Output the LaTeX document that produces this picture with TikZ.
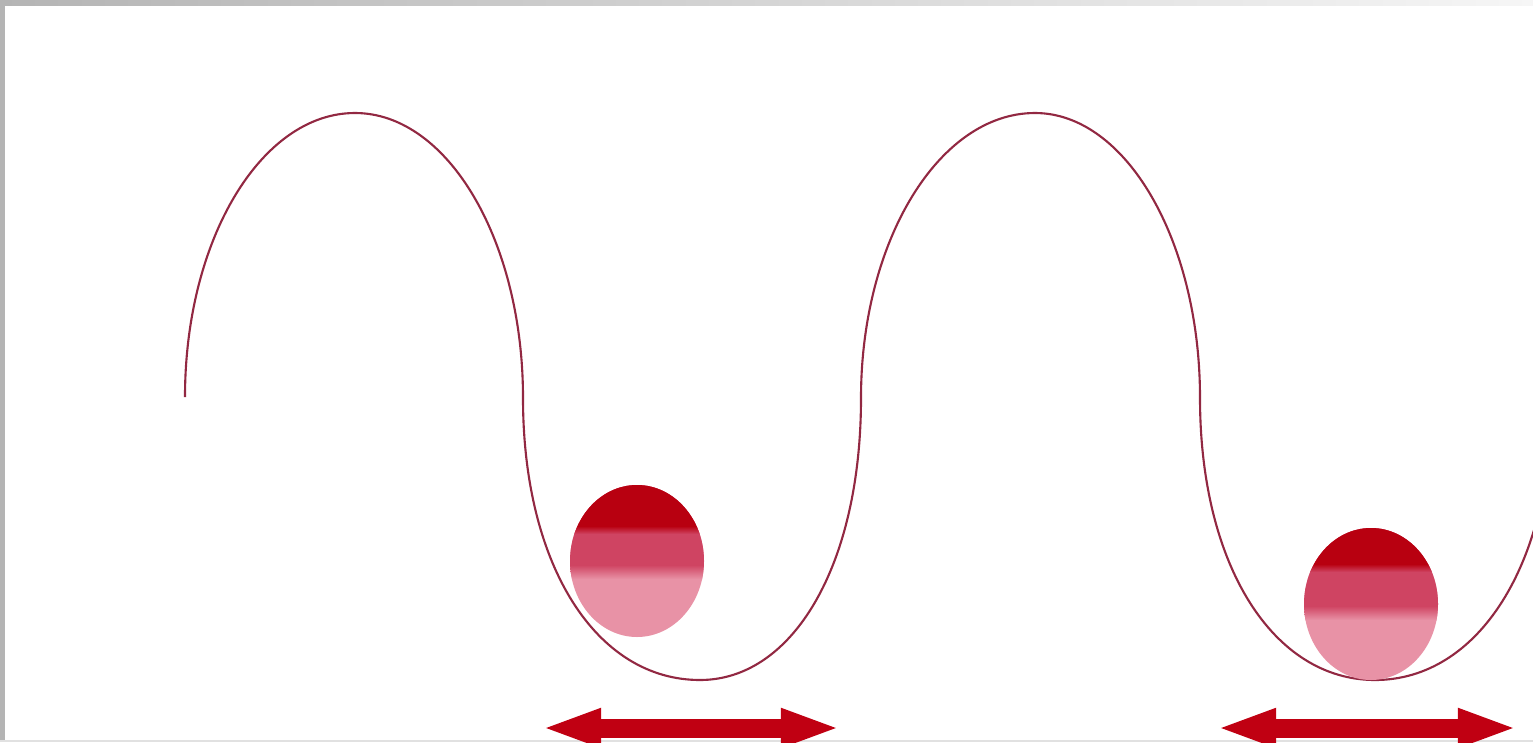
\documentclass[tikz,border=0pt]{standalone}
\usetikzlibrary{arrows.meta}
\definecolor{ballDark}{RGB}{184,0,16}
\definecolor{ballMid}{RGB}{207,68,98}
\definecolor{ballLight}{RGB}{232,146,166}
\definecolor{trackLine}{RGB}{146,40,66}
\definecolor{arrowRed}{RGB}{192,0,18}
\definecolor{frameGray}{RGB}{180,180,180}
\newcommand{\redball}[4]{%
  \begin{scope}
    \clip (#1,#2) ellipse [x radius=67, y radius=76];
    \fill[ballLight] (#1-70,#2-80) rectangle (#1+70,#2+80);
    \shade[top color=ballMid, bottom color=ballLight] (#1-70,#4-8) rectangle (#1+70,#4+6);
    \fill[ballMid] (#1-70,#2-80) rectangle (#1+70,#4-8);
    \shade[top color=ballDark, bottom color=ballMid] (#1-70,#3-4) rectangle (#1+70,#3+4);
    \fill[ballDark] (#1-70,#2-80) rectangle (#1+70,#3-4);
  \end{scope}}

\begin{document}
\begin{tikzpicture}[x=0.01cm, y=-0.01cm,
  >={Triangle[length=0.6cm, width=0.35cm]},
  track/.style={draw=trackLine, line width=0.6pt},
  shiftarrow/.style={draw=arrowRed, line width=0.19cm, <->}]
  \useasboundingbox (0,0) rectangle (1533,742);
  \clip (0,0) rectangle (1533,742);
  \fill[white] (0,0) rectangle (1533,742);
  \shade[left color=frameGray, middle color=frameGray!85, right color=frameGray!12] (0,0) rectangle (1533,5);
  \fill[frameGray] (0,0) rectangle (5,742);
  \fill[frameGray!40] (0,740) rectangle (1533,742);

  \draw[track] (185,397) .. controls (185,240) and (261,113) .. (355,113)
    .. controls (448,113) and (523,241) .. (523,398)
    .. controls (523,565) and (596,680) .. (700,680)
    .. controls (793,680) and (861,565) .. (861,398)
    .. controls (861,241) and (939,113) .. (1035,113)
    .. controls (1126,113) and (1200,241) .. (1200,398)
    .. controls (1200,565) and (1273,680) .. (1375,680)
    .. controls (1478,680) and (1552,565) .. (1552,398);

  \redball{637}{561}{530}{573}
  \redball{1371}{604}{568}{614}

  \coordinate (swingAleft) at (541,728);
  \coordinate (swingAright) at (841,728);
  \coordinate (swingBleft) at (1216,728);
  \coordinate (swingBright) at (1518,728);
  \draw[shiftarrow] (swingAleft) -- (swingAright);
  \draw[shiftarrow] (swingBleft) -- (swingBright);
\end{tikzpicture}
\end{document}
